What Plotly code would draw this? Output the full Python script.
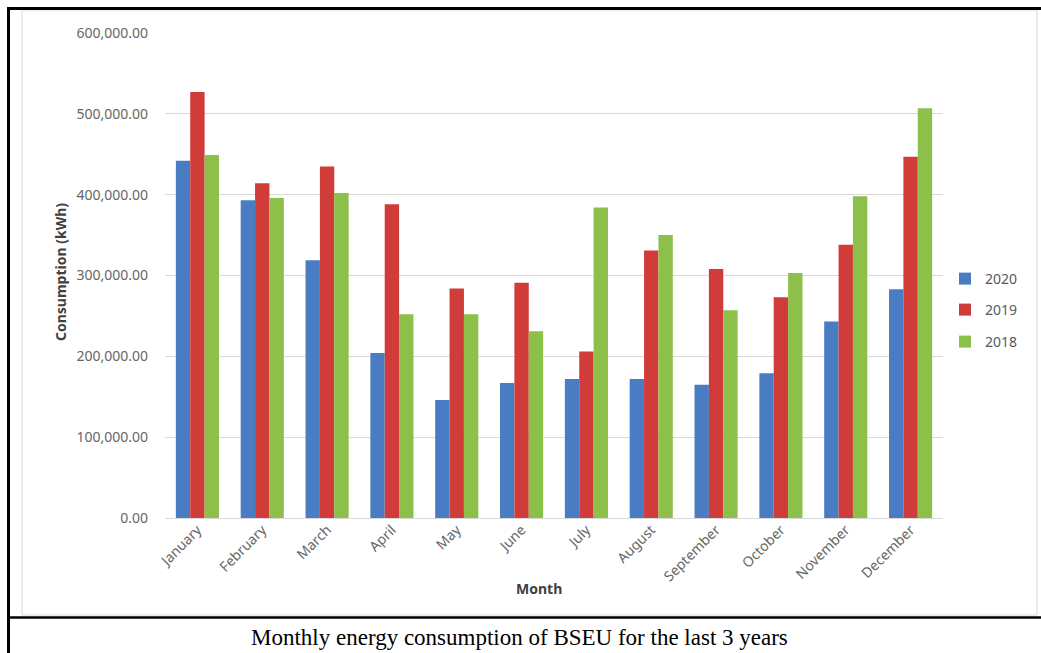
import plotly.graph_objects as go

# Monthly consumption (kWh)
months = ["January", "February", "March", "April", "May", "June",
          "July", "August", "September", "October", "November", "December"]
cons_2020 = [442000, 393000, 319000, 204000, 146000, 167000,
             172000, 172000, 165000, 179000, 243000, 283000]
cons_2019 = [527000, 414000, 435000, 388000, 284000, 291000,
             206000, 331000, 308000, 273000, 338000, 447000]
cons_2018 = [449000, 396000, 402000, 252000, 252000, 231000,
             384000, 350000, 257000, 303000, 398000, 507000]
years = ["2020", "2019", "2018"]
colors = ["#4A7CC4", "#D03C3A", "#8DC04A"]

W, H = 1041, 653
L, R, T, B = 165, 943, 33, 518


def px(x):
    return (x - L) / (R - L)


def py(y):
    return (B - y) / (B - T)


fig = go.Figure()
series = [cons_2020, cons_2019, cons_2018]
legends = ["legend", "legend2", "legend3"]
for name, vals, col, lg in zip(years, series, colors, legends):
    fig.add_trace(go.Bar(x=months, y=vals, name=name, marker_color=col,
                         marker_line_width=0, legend=lg))

tick_font = dict(family="Noto Sans", size=14, color="#666666")
leg_common = dict(font=dict(family="Noto Sans", size=14, color="#595959"),
                  bgcolor="rgba(0,0,0,0)", borderwidth=0,
                  xanchor="left", yanchor="middle", itemwidth=30)

fig.update_layout(
    width=W, height=H,
    margin=dict(l=L, r=W - R, t=T, b=H - B, pad=0, autoexpand=False),
    paper_bgcolor="white", plot_bgcolor="white",
    barmode="group", bargap=0.335, bargroupgap=0,
    showlegend=True,
    legend=dict(x=px(945), y=py(279), **leg_common),
    legend2=dict(x=px(945), y=py(310), **leg_common),
    legend3=dict(x=px(945), y=py(342), **leg_common),
    xaxis=dict(tickangle=-45, tickfont=tick_font, showgrid=False,
               showline=False, ticks=""),
    yaxis=dict(range=[0, 600000], dtick=100000, tickformat=",.2f",
               tickfont=tick_font, gridcolor="#D9D9D9", gridwidth=1,
               zeroline=True, zerolinecolor="#D9D9D9", zerolinewidth=1,
               showline=False, ticks="", ticklabelstandoff=16),
    annotations=[
        dict(text="<b>Consumption (kWh)</b>", textangle=-90,
             x=px(60), y=py(272), xref="paper", yref="paper",
             xanchor="center", yanchor="middle",
             showarrow=False, font=dict(family="Noto Sans", size=14, color="#404040")),
        dict(text="<b>Month</b>", x=px(539), y=py(588),
             xref="paper", yref="paper", xanchor="center", yanchor="middle",
             showarrow=False,
             font=dict(family="Noto Sans", size=14, color="#404040")),
        dict(text="Monthly energy consumption of BSEU for the last 3 years",
             x=px(519), y=py(637), xref="paper", yref="paper",
             xanchor="center", yanchor="middle", showarrow=False,
             font=dict(family="Liberation Serif", size=23, color="black")),
    ],
    shapes=[
        # light chart-area frame
        dict(type="rect", xref="paper", yref="paper",
             x0=px(22), x1=px(1037), y0=py(615), y1=py(10),
             line=dict(color="#D9D9D9", width=1), layer="below"),
        # black table borders
        dict(type="line", xref="paper", yref="paper",
             x0=px(7), x1=px(1041), y0=py(8.5), y1=py(8.5),
             line=dict(color="black", width=3)),
        dict(type="line", xref="paper", yref="paper",
             x0=px(8.5), x1=px(8.5), y0=py(7), y1=py(653),
             line=dict(color="black", width=3)),
        dict(type="line", xref="paper", yref="paper",
             x0=px(7), x1=px(1041), y0=py(617.5), y1=py(617.5),
             line=dict(color="black", width=2.5)),
    ],
)

fig.write_html("out.html")
